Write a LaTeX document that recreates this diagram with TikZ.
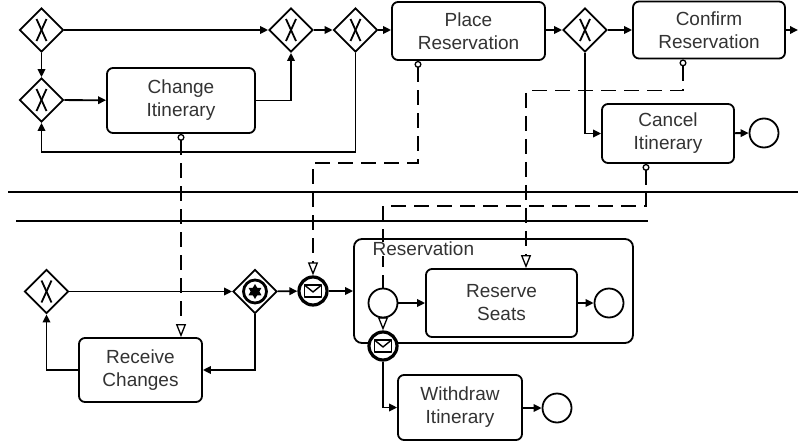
\documentclass[tikz,border=0pt]{standalone}
\usepackage{fontspec}
\setmainfont{Liberation Sans}
\usetikzlibrary{shapes.geometric,arrows.meta,backgrounds}

\tikzset{
  lw/.style={line width=1.8pt},
  flow/.style={lw, -{Triangle[length=8pt,width=7.5pt]}},
  msgflow/.style={line width=1.6pt, dash pattern=on 15pt off 8pt,
    {Circle[open,length=7pt,width=7pt,line width=1.3pt]}-{Triangle[open,length=13pt,width=10pt,line width=1.3pt]}},
  lbl/.style={font=\fontsize{19}{23}\selectfont, text=black!80},
  task/.style={draw, lw, rounded corners=6pt, fill=white, align=center, inner sep=0pt, lbl},
  gwbase/.style={diamond, draw, lw, fill=white, minimum width=44pt, minimum height=44pt, inner sep=0pt},
  xgw/.style={gwbase, path picture={
    \coordinate (c) at (path picture bounding box.center);
    \draw[lw] ([shift={(-5,-11)}]c) -- ([shift={(5,11)}]c);
    \draw[lw] ([shift={(5,-11)}]c) -- ([shift={(-5,11)}]c);}},
  evgw/.style={gwbase, path picture={
    \coordinate (c) at (path picture bounding box.center);
    \draw[line width=2.8pt] (c) circle[radius=11.5];
    \fill[black] ([shift={(90:7.5)}]c) -- ([shift={(210:7.5)}]c) -- ([shift={(330:7.5)}]c) -- cycle;
    \fill[black] ([shift={(270:7.5)}]c) -- ([shift={(30:7.5)}]c) -- ([shift={(150:7.5)}]c) -- cycle;}},
  endev/.style={circle, draw, lw, fill=white, minimum size=29pt, inner sep=0pt},
  msgev/.style={circle, draw, line width=3.2pt, fill=white, minimum size=28pt, inner sep=0pt, path picture={
    \coordinate (c) at (path picture bounding box.center);
    \draw[line width=1.4pt, line join=round] ([shift={(-8.5,-6)}]c) rectangle ([shift={(8.5,6)}]c);
    \draw[line width=1.4pt, line join=round] ([shift={(-8.5,-6)}]c) -- ([shift={(0,1)}]c) -- ([shift={(8.5,-6)}]c);}},
}

\begin{document}
\begin{tikzpicture}[x=1pt,y=-1pt]
\useasboundingbox (0,0) rectangle (798,442);

% ---- upper pool ----
\node[xgw] (g1) at (41.5,30) {};
\node[xgw] (g2) at (41.5,100) {};
\node[task, minimum width=148pt, minimum height=65pt] (chg) at (181,100.5) {Change\\Itinerary};
\node[xgw] (g3) at (291,30) {};
\node[xgw] (g4) at (355.5,30) {};
\node[task, minimum width=153pt, minimum height=58pt] (place) at (468.5,31) {Place\\Reservation};
\node[xgw] (g5) at (585,30) {};
\node[task, minimum width=152pt, minimum height=57pt] (confirm) at (709,30) {Confirm\\Reservation};
\coordinate (out) at (798,30);
\node[task, minimum width=132pt, minimum height=59pt] (cancel) at (668,133.5) {Cancel\\Itinerary};
\node[endev] (e1) at (764,133) {};

% ---- lower pool ----
\node[xgw] (g6) at (46.5,291.5) {};
\node[evgw] (g7) at (255,291.5) {};
\node[msgev] (m1) at (313,291) {};
\node[draw, lw, rounded corners=8pt, minimum width=279pt, minimum height=104pt, inner sep=0pt] (sub) at (493.5,291) {};
\node[lbl, anchor=west, fill=white, inner sep=0.5pt] (sublbl) at (372,249) {Reservation};
\node[endev] (st) at (383,303) {};
\node[task, minimum width=151pt, minimum height=68pt] (seats) at (501.5,303) {Reserve\\Seats};
\node[endev] (e2) at (609,303) {};
\node[msgev] (bnd) at (383,346) {};
\node[task, minimum width=124pt, minimum height=65pt] (wd) at (460,407.5) {Withdraw\\Itinerary};
\node[endev] (e3) at (557,408) {};
\node[task, minimum width=123pt, minimum height=64pt] (recv) at (140.5,370) {Receive\\Changes};

% ---- sequence flows ----
\draw[flow] (g1) -- (g3);
\draw[flow] (g1) -- (g2);
\draw[flow] (g2) -- (chg);
\draw[flow] (chg.east) -| (g3.south);
\draw[flow] (g3) -- (g4);
\draw[flow] (g4) -- (place.west |- g4);
\draw[flow] (g4.south) -- ++(0,99) -| (g2.south);
\draw[flow] (place.east |- g5) -- (g5);
\draw[flow] (g5) -- (confirm);
\draw[flow] (confirm) -- (out);
\draw[flow] (g5.south) |- (cancel.west);
\draw[flow] (cancel) -- (e1);

\draw[flow] (g6) -- (g7);
\draw[flow] (g7) -- (m1);
\draw[flow] (m1.east) -- (m1.east -| sub.west);
\draw[flow] (st) -- (seats.west |- st);
\draw[flow] (seats.east |- e2) -- (e2);
\draw[flow] (bnd.south) |- (wd.west);
\draw[flow] (wd.east |- e3) -- (e3);
\draw[flow] (g7.south) |- (recv.east);
\draw[flow] (recv.west) -| (g6.south);

% ---- pool boundaries and message flows ----
\begin{pgfonlayer}{background}
  \draw[lw] (8,192) -- (798,192);
  \draw[lw] (16,221) -- (648,221);
  \draw[msgflow] (chg.south) -- (chg.south |- recv.north);
  \draw[msgflow] ([xshift=-50.5pt]place.south) -- ++(0,102) -| (m1.north);
  \draw[msgflow] ([xshift=-26pt]confirm.south) -- ++(0,31) -| ([xshift=24.5pt]seats.north);
  \draw[msgflow] ([xshift=-22pt]cancel.south) -- ++(0,42) -| (bnd.north);
\end{pgfonlayer}
\end{tikzpicture}
\end{document}
